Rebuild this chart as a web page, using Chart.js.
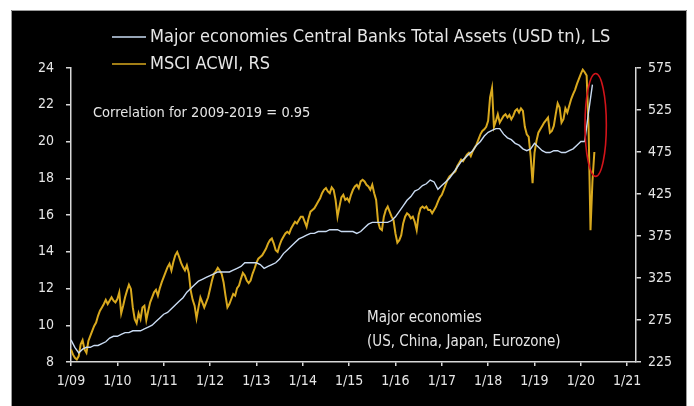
<!DOCTYPE html>
<html>
<head>
<meta charset="utf-8">
<script src="https://cdn.jsdelivr.net/npm/chart.js@4.4.1/dist/chart.umd.min.js"></script>
<style>
  html, body { margin: 0; padding: 0; background: #fff; }
  #wrap { position: relative; width: 694px; height: 406px; }
</style>
</head>
<body>
<div id="wrap"><canvas id="chart" width="694" height="406"></canvas></div>
<script>
// x axis ticks (years), labelled 1/09 ... 1/21
const yearTicks = [2009, 2010, 2011, 2012, 2013, 2014, 2015, 2016, 2017, 2018, 2019, 2020, 2021];

// Major economies central banks total assets, USD tn (monthly, from Jan 2009)
const cbAssets = [
  9.2, 8.8, 8.5, 8.7, 8.8, 8.8, 8.9, 8.9, 9.0, 9.1, 9.3, 9.4,
  9.4, 9.5, 9.6, 9.6, 9.7, 9.7, 9.7, 9.8, 9.9, 10.0, 10.2, 10.4,
  10.6, 10.7, 10.9, 11.1, 11.3, 11.5, 11.8, 12.0, 12.2, 12.4, 12.5, 12.6,
  12.7, 12.8, 12.9, 12.9, 12.9, 12.9, 13.0, 13.1, 13.2, 13.4, 13.4, 13.4,
  13.4, 13.3, 13.1, 13.2, 13.3, 13.4, 13.6, 13.9, 14.1, 14.3, 14.5, 14.7,
  14.8, 14.9, 15.0, 15.0, 15.1, 15.1, 15.1, 15.2, 15.2, 15.2, 15.1, 15.1,
  15.1, 15.1, 15.0, 15.1, 15.3, 15.5, 15.6, 15.6, 15.6, 15.6, 15.6, 15.7,
  15.9, 16.2, 16.5, 16.8, 17.0, 17.3, 17.4, 17.6, 17.7, 17.9, 17.8, 17.4,
  17.6, 17.8, 18.0, 18.3, 18.6, 18.9, 19.1, 19.3, 19.5, 19.8, 20.0, 20.3,
  20.5, 20.6, 20.7, 20.7, 20.4, 20.2, 20.1, 19.9, 19.8, 19.6, 19.5, 19.6,
  19.9, 19.7, 19.5, 19.4, 19.4, 19.5, 19.5, 19.4, 19.4, 19.5, 19.6, 19.8,
  20.0, 20.0, 21.6, 23.1
];

// MSCI ACWI index (twice a month, from Jan 2009)
const acwi = [
  240, 234, 230, 228, 232, 246, 251, 240, 236, 250, 256, 262, 268, 272, 280, 286, 290, 294, 299, 294, 298, 302, 298, 296,
  300, 308, 283, 292, 302, 310, 317, 312, 290, 276, 271, 283, 276, 290, 292, 275, 286, 296, 302, 308, 311, 304, 313, 320,
  326, 332, 338, 342, 334, 344, 352, 356, 350, 343, 338, 334, 340, 331, 310, 299, 292, 277, 290, 302, 296, 290, 296, 302,
  312, 322, 330, 333, 337, 334, 330, 320, 304, 290, 294, 300, 306, 304, 313, 316, 324, 331, 328, 322, 319, 322, 330, 336,
  343, 348, 350, 352, 356, 360, 366, 370, 372, 366, 358, 356, 364, 370, 374, 378, 380, 378, 384, 388, 392, 390, 394, 398,
  398, 392, 386, 396, 404, 406, 408, 412, 416, 420, 426, 430, 432, 428, 426, 433, 430, 418, 398, 410, 421, 424, 418, 420,
  416, 424, 430, 434, 436, 432, 440, 442, 440, 436, 434, 430, 436, 426, 418, 392, 384, 382, 398, 406, 410, 404, 398, 394,
  378, 367, 370, 376, 390, 398, 402, 400, 396, 398, 392, 382, 400, 408, 410, 408, 410, 406, 406, 402, 406, 410, 416, 421,
  424, 430, 436, 442, 446, 448, 450, 452, 458, 462, 466, 464, 468, 472, 474, 470, 476, 480, 484, 490, 496, 500, 502, 505,
  512, 540, 551, 505, 512, 520, 510, 514, 518, 520, 516, 519, 514, 518, 524, 526, 522, 527, 524, 505, 496, 493, 470, 438,
  474, 488, 498, 502, 506, 510, 513, 516, 498, 500, 506, 520, 533, 528, 510, 514, 527, 522, 530, 538, 544, 549, 556, 562,
  568, 573, 570, 566, 505, 382, 440, 475
];

const startYear = 2009;
const cbPoints = cbAssets.map((v, i) => ({ x: startYear + i / 12, y: v }));
const acwiPoints = acwi.map((v, i) => ({ x: startYear + i / 24, y: v }));

const FONT = "'Liberation Sans Narrow', 'DejaVu Sans Condensed', 'Arial Narrow', sans-serif";
const TEXT = '#e6e6e6';
const BLUE = '#c9dbf2';
const GOLD = '#d9a91e';

const decor = {
  id: 'decor',
  beforeDraw(chart) {
    const ctx = chart.ctx;
    ctx.save();
    ctx.fillStyle = '#000';
    ctx.fillRect(11, 10, 676, 396);
    ctx.strokeStyle = '#9a9a9a';
    ctx.lineWidth = 1;
    ctx.beginPath();
    ctx.moveTo(11.5, 406); ctx.lineTo(11.5, 10.5); ctx.lineTo(686.5, 10.5); ctx.lineTo(686.5, 406);
    ctx.stroke();
    ctx.restore();
  },
  afterDraw(chart) {
    const ctx = chart.ctx;
    const { x, y } = chart.scales;
    ctx.save();
    // legend
    ctx.lineWidth = 1.5;
    ctx.strokeStyle = BLUE;
    ctx.beginPath(); ctx.moveTo(112, 37); ctx.lineTo(146, 37); ctx.stroke();
    ctx.strokeStyle = GOLD;
    ctx.beginPath(); ctx.moveTo(112, 64); ctx.lineTo(146, 64); ctx.stroke();
    ctx.fillStyle = TEXT;
    ctx.textBaseline = 'middle';
    ctx.font = '18px ' + FONT;
    ctx.fillText('Major economies Central Banks Total Assets (USD tn), LS', 150, 37);
    ctx.fillText('MSCI ACWI, RS', 150, 64);
    // notes
    ctx.font = '14.5px ' + FONT;
    ctx.fillText('Correlation for 2009-2019 = 0.95', 93, 113);
    ctx.font = '15px ' + FONT;
    ctx.fillText('Major economies', 367, 318);
    ctx.fillText('(US, China, Japan, Eurozone)', 367, 342);
    // red ellipse round the 2020 jump
    const cx = x.getPixelForValue(2020.32);
    const cy = y.getPixelForValue(20.9);
    const rx = x.getPixelForValue(2020.55) - cx;
    const ry = y.getPixelForValue(18.1) - cy;
    ctx.strokeStyle = '#d2141a';
    ctx.lineWidth = 1.6;
    ctx.beginPath();
    ctx.ellipse(cx, cy, rx, ry, 0, 0, Math.PI * 2);
    ctx.stroke();
    ctx.restore();
  }
};

const axisColor = '#d8d8d8';

new Chart(document.getElementById('chart'), {
  type: 'line',
  data: {
    datasets: [
      {
        label: 'Major economies Central Banks Total Assets (USD tn), LS',
        data: cbPoints,
        yAxisID: 'y',
        borderColor: BLUE,
        borderWidth: 1.4,
        pointRadius: 0,
        tension: 0,
        order: 1
      },
      {
        label: 'MSCI ACWI, RS',
        data: acwiPoints,
        yAxisID: 'y1',
        borderColor: GOLD,
        borderWidth: 2,
        pointRadius: 0,
        tension: 0,
        order: 2
      }
    ]
  },
  options: {
    responsive: false,
    animation: false,
    events: [],
    layout: { padding: { top: 68, left: 0, right: 0, bottom: 0 } },
    plugins: { legend: { display: false }, tooltip: { enabled: false } },
    scales: {
      x: {
        type: 'linear',
        min: 2009,
        max: 2021.19,
        afterFit: s => { s.height = 44; },
        afterBuildTicks: s => { s.ticks = yearTicks.map(v => ({ value: v })); },
        grid: { drawOnChartArea: false, color: axisColor, tickLength: 4, lineWidth: 1.5 },
        border: { color: axisColor, width: 1.5 },
        ticks: {
          color: TEXT,
          padding: 7,
          maxRotation: 0,
          font: { family: FONT, size: 14 },
          callback: v => '1/' + String(v).slice(2)
        }
      },
      y: {
        position: 'left',
        min: 8,
        max: 24,
        afterFit: s => { s.width = 71; },
        grid: { drawOnChartArea: false, color: axisColor, tickLength: 5, lineWidth: 1.5 },
        border: { color: axisColor, width: 1.5 },
        ticks: { stepSize: 2, color: TEXT, padding: 12, font: { family: FONT, size: 14 } }
      },
      y1: {
        position: 'right',
        min: 225,
        max: 575,
        afterFit: s => { s.width = 58; },
        grid: { drawOnChartArea: false, color: axisColor, tickLength: 5, lineWidth: 1.5 },
        border: { color: axisColor, width: 1.5 },
        ticks: { stepSize: 50, color: TEXT, padding: 7, font: { family: FONT, size: 14 } }
      }
    }
  },
  plugins: [decor]
});
</script>
</body>
</html>
